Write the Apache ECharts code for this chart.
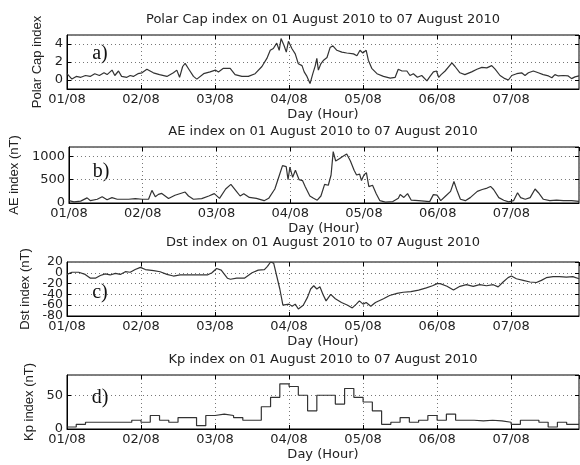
<!DOCTYPE html>
<html><head><meta charset="utf-8">
<script src="https://cdn.jsdelivr.net/npm/echarts@6/dist/echarts.min.js"></script>
<style>html,body{margin:0;padding:0;background:#fff}#c{width:580px;height:465px}</style>
</head><body><div id="c"></div>
<script>
// ---- tick labels / text ----
const dayLabels = ['01/08','02/08','03/08','04/08','05/08','06/08','07/08'];
const titles = [
  'Polar Cap index on 01 August 2010 to 07 August 2010',
  'AE index on 01 August 2010 to 07 August 2010',
  'Dst index on 01 August 2010 to 07 August 2010',
  'Kp index on 01 August 2010 to 07 August 2010'
];
const yNames = ['Polar Cap index','AE index (nT)','Dst index (nT)','Kp index (nT)'];
const xName = 'Day (Hour)';
const panelTags = ['a)','b)','c)','d)'];

// ---- data: hours since 01/08 00:00 and values ----
const pcHours = [0,1.6,3,4.5,6,7.5,9,10.5,12,13,14.6,15.5,16.7,17.7,19.4,20.5,21.5,23,24.3,25.9,28,30,32.4,34.5,35.6,36.5,37.5,38.3,39.5,41,42.1,44.3,46.4,48.1,49.1,50.7,52.9,54.5,56.7,58.8,61,63.2,64.8,65.9,66.9,68,68.8,69.4,70.4,71.1,71.8,72.9,74,75,76.2,76.9,77.8,78.8,79.7,80.5,81,81.5,82.3,83.2,84.3,85.3,86.2,87.5,89.1,90.7,92.9,94,95,95.9,97,97.7,98.8,100.5,102.6,104.8,106.4,107.4,108.6,110.2,111.2,112.3,113.6,115,116.7,117.7,118.8,119.8,120.5,121.3,122.6,124.8,125.8,127.4,129,131.2,132.9,134.5,136.1,137.7,138.8,140.4,142,143.1,144.2,145.8,147.4,148.5,149.6,151.2,152.8,154.4,156.1,157.2,158.2,159.3,160.9,162.5,163.6,164.7,166];
const pcValues = [0.7,0.1,0.4,0.3,0.5,0.4,0.7,0.5,0.8,0.6,1.1,0.5,1.0,0.4,0.3,0.5,0.4,0.7,0.8,1.2,0.8,0.6,0.4,0.8,1.1,0.3,1.5,1.85,1.2,0.4,0.1,0.7,0.9,1.1,0.9,1.3,1.3,0.6,0.4,0.4,0.7,1.5,2.4,3.3,3.5,4.1,3.3,4.6,3.8,3.1,4.3,3.5,2.9,1.8,1.6,0.9,0.4,-0.4,0.7,1.6,2.4,1.1,1.8,2.2,2.5,3.6,3.8,3.3,3.1,3.0,2.9,2.7,3.3,3.0,3.3,2.2,1.3,0.7,0.4,0.2,0.3,1.2,1.0,1.0,0.5,0.7,0.3,0.5,-0.1,0.4,0.9,1.0,0.3,0.6,1.0,1.9,1.5,0.8,0.6,0.9,1.2,1.4,1.35,1.6,1.2,0.5,0.15,0,0.5,0.7,0.8,0.5,0.8,1.0,0.8,0.6,0.45,0.25,0.6,0.45,0.5,0.45,0.15,0.35,0.45];

const aeHours = [0,1.6,3.8,5.9,7,9.2,10.8,12.4,14,15.7,17.3,19.4,21.6,23.8,25.9,27,28.1,29.1,30.2,32.4,34.5,37.8,38.9,40.5,43.2,45.5,47.3,49,51,52.7,54.5,55.7,56.9,58.7,61,63.5,65,67,68.5,69.5,70.7,71.3,71.9,72.8,73.7,74.9,76,76.9,78.4,79.6,80.8,82,83.2,84.4,85.3,86,86.8,88,89.2,90.4,91.6,92.8,93.6,94.6,95.2,96,96.8,97.6,98.8,100,101.2,103,105.4,107.2,107.8,109,110.2,111.4,113.8,117.4,118.6,119.8,121,122.6,124.2,125.3,126.4,127.4,129,130.6,132.9,134.5,136.1,137.2,138.2,139.9,141.5,143.1,144.7,146,147,148.5,150.1,151.7,152.8,154.4,156.5,158.7,160.9,163.6,166];
const aeValues = [50,25,40,110,50,80,135,70,115,80,80,80,95,80,80,270,135,185,205,95,165,235,150,80,95,150,200,100,300,400,250,150,200,120,100,50,100,300,600,800,780,500,770,550,700,500,480,350,150,100,60,150,400,380,600,1100,900,950,1000,1050,900,700,600,620,480,600,650,350,380,200,50,20,30,100,180,120,200,60,50,30,180,170,50,150,250,460,250,80,50,115,250,290,320,355,290,115,60,25,50,220,115,80,115,300,220,80,50,60,50,50,35];

const dstHours = [0,1.6,3.8,5.9,7.6,9.2,10.8,12.4,14,15.7,17.3,18.9,20.5,22.1,23.8,25.4,28.1,30.2,32.4,34.5,36.7,38.9,43.2,45.5,47,48.5,50,52,53,55,57.5,60,62,64,65,66,67,69,70,72,73,74,75,76.6,78,79,80,81,82,83,84,85.5,87,89,91,92.5,93.8,94.8,96,97,98.5,100,102.6,104.6,107,109,111.5,114,116.5,118.5,120,121,123.2,125.3,127.4,129.5,131.7,133.8,136,138.2,139.8,141.4,143,144.1,145.7,147.9,150.1,152.2,153.8,155.4,157.6,159.7,161.9,164,166];
const dstValues = [-3,1,1,-3,-10,-10,-5,-2,-4,-1,-3,2,1,6,10,6,4,2,-3,-6,-4,-4,-4,-4,0,8,5,-10,-12,-10,-10,0,5,6,12,20,18,-30,-60,-58,-62,-58,-67,-60,-45,-30,-24,-30,-26,-40,-52,-40,-48,-55,-60,-65,-58,-52,-58,-55,-62,-55,-48,-42,-38,-36,-35,-32,-28,-24,-20,-20,-25,-32,-25,-22,-25,-22,-24,-22,-26,-17,-9,-6,-11,-14,-17,-18,-14,-9,-7,-7,-8,-7,-11];

// Kp: 3-hourly values, block start hours
const kpHours = [0,3,6,9,12,15,18,21,24,27,30,33,36,39,42,45,48,51,54,57,60,63,66,69,72,75,78,81,84,87,90,93,96,99,102,105,108,111,114,117,120,123,126,129,132,135,138,141,144,147,150,153,156,159,162,165,166];
const kpValues = [3,7,10,10,10,10,10,13,10,20,13,10,17,17,5,20,22,20,17,13,13,33,47,67,63,50,27,50,50,37,60,47,40,27,7,10,17,10,13,20,13,22,13,13,12,13,12,10,7,13,13,10,3,10,7,7,7];

const pairs = (h, v) => h.map((x, i) => [x, v[i]]);

const GRID_LEFT = 67, GRID_RIGHT = 1;
const gridBoxes = [
  {top: 35, height: 54},
  {top: 147, height: 56},
  {top: 262, height: 54},
  {top: 375, height: 54}
];
const yScales = [
  {min: -1, max: 5, splitNumber: 3},
  {min: 0, max: 1200, interval: 500},
  {min: -80, max: 20, interval: 20},
  {min: 0, max: 80, interval: 50}
];
const yNameGaps = [22, 44, 34, 30];
const yLabelSizes = [13, 13, 12.5, 13];
const tagPos = [[100, 54], [101, 172], [100, 293], [100, 398]];
const titleY = [20, 132, 243, 360];

const SANS = '"DejaVu Sans", sans-serif';
const LINE = '#333';
const gridLineStyle = {color: '#777', type: [1, 3], width: 1};

const grid = gridBoxes.map(g => ({left: GRID_LEFT, right: GRID_RIGHT, top: g.top, height: g.height,
  show: true, borderColor: '#000', borderWidth: 1, containLabel: false}));

const xAxis = [], yAxis = [];
for (let i = 0; i < 4; i++) {
  xAxis.push({
    type: 'value', gridIndex: i, min: 0, max: 166, interval: 24,
    axisLine: {show: true, onZero: false, lineStyle: {color: '#000'}},
    axisTick: {show: true, inside: true, length: 4, lineStyle: {color: '#000'}},
    axisLabel: {show: true, margin: 4, color: '#222', fontFamily: SANS, fontSize: 13, showMaxLabel: false,
      formatter: v => (v % 24 === 0 && dayLabels[v / 24] !== undefined) ? dayLabels[v / 24] : ''},
    splitLine: {show: true, lineStyle: gridLineStyle},
    name: xName, nameLocation: 'middle', nameGap: 19,
    nameTextStyle: {color: '#222', fontFamily: SANS, fontSize: 13}
  });
  yAxis.push(Object.assign({
    type: 'value', gridIndex: i,
    axisLine: {show: true, onZero: false, lineStyle: {color: '#000'}},
    axisTick: {show: true, inside: true, length: 4, lineStyle: {color: '#000'}},
    axisLabel: {show: true, margin: 4, color: '#222', fontFamily: SANS, fontSize: yLabelSizes[i],
      // Dst: end labels come from the extra end-label axis below
      showMinLabel: (i === 0 || i === 2) ? false : true, showMaxLabel: false,
      formatter: v => String(v)},
    splitLine: {show: true, lineStyle: gridLineStyle},
    name: yNames[i], nameLocation: 'middle', nameGap: yNameGaps[i], nameRotate: 90,
    nameTextStyle: {color: '#222', fontFamily: '"Liberation Sans", Arial, sans-serif', fontSize: 13}
  }, yScales[i]));
}
// mirrored top / right axes for the inward ticks on the box
for (let i = 0; i < 4; i++) {
  xAxis.push({
    type: 'value', gridIndex: i, position: 'top', min: 0, max: 166, interval: 24,
    axisLine: {show: false, onZero: false}, axisLabel: {show: false}, splitLine: {show: false},
    axisTick: {show: true, inside: true, length: 4, lineStyle: {color: '#000'}}
  });
  yAxis.push(Object.assign({
    type: 'value', gridIndex: i, position: 'right',
    axisLine: {show: false, onZero: false}, axisLabel: {show: false}, splitLine: {show: false},
    axisTick: {show: true, inside: true, length: 4, lineStyle: {color: '#000'}}
  }, yScales[i]));
}
// Dst end labels (-80 and 20), an overlay axis on the same scale
yAxis.push({
  type: 'value', gridIndex: 2, position: 'left', offset: 0, min: -80, max: 20, interval: 100,
  axisLine: {show: false, onZero: false}, axisTick: {show: false}, splitLine: {show: false},
  axisLabel: {show: true, margin: 4, color: '#222', fontFamily: SANS, fontSize: yLabelSizes[2],
    showMinLabel: true, showMaxLabel: true, formatter: v => String(v)}
});

const seriesData = [
  pairs(pcHours, pcValues),
  pairs(aeHours, aeValues),
  pairs(dstHours, dstValues),
  pairs(kpHours, kpValues)
];
const series = seriesData.map((d, i) => ({
  type: 'line', xAxisIndex: i, yAxisIndex: i, data: d, symbol: 'none',
  step: i === 3 ? 'end' : false,
  lineStyle: {color: LINE, width: 1.2}, silent: true
}));

const graphic = [];
titles.forEach((t, i) => graphic.push({
  type: 'text', x: GRID_LEFT + (580 - GRID_LEFT - GRID_RIGHT) / 2, y: titleY[i],
  style: {text: t, align: 'center', verticalAlign: 'middle', fill: '#222',
    font: '13px "DejaVu Sans", sans-serif'}
}));
panelTags.forEach((t, i) => graphic.push({
  type: 'text', x: tagPos[i][0], y: tagPos[i][1],
  style: {text: t, align: 'center', verticalAlign: 'middle', fill: '#111',
    font: '20px "Liberation Serif", "Times New Roman", serif'}
}));

const chart = echarts.init(document.getElementById('c'), null, {renderer: 'canvas'});
chart.setOption({
  backgroundColor: '#fff', animation: false,
  grid, xAxis, yAxis, series, graphic
});
</script></body></html>
